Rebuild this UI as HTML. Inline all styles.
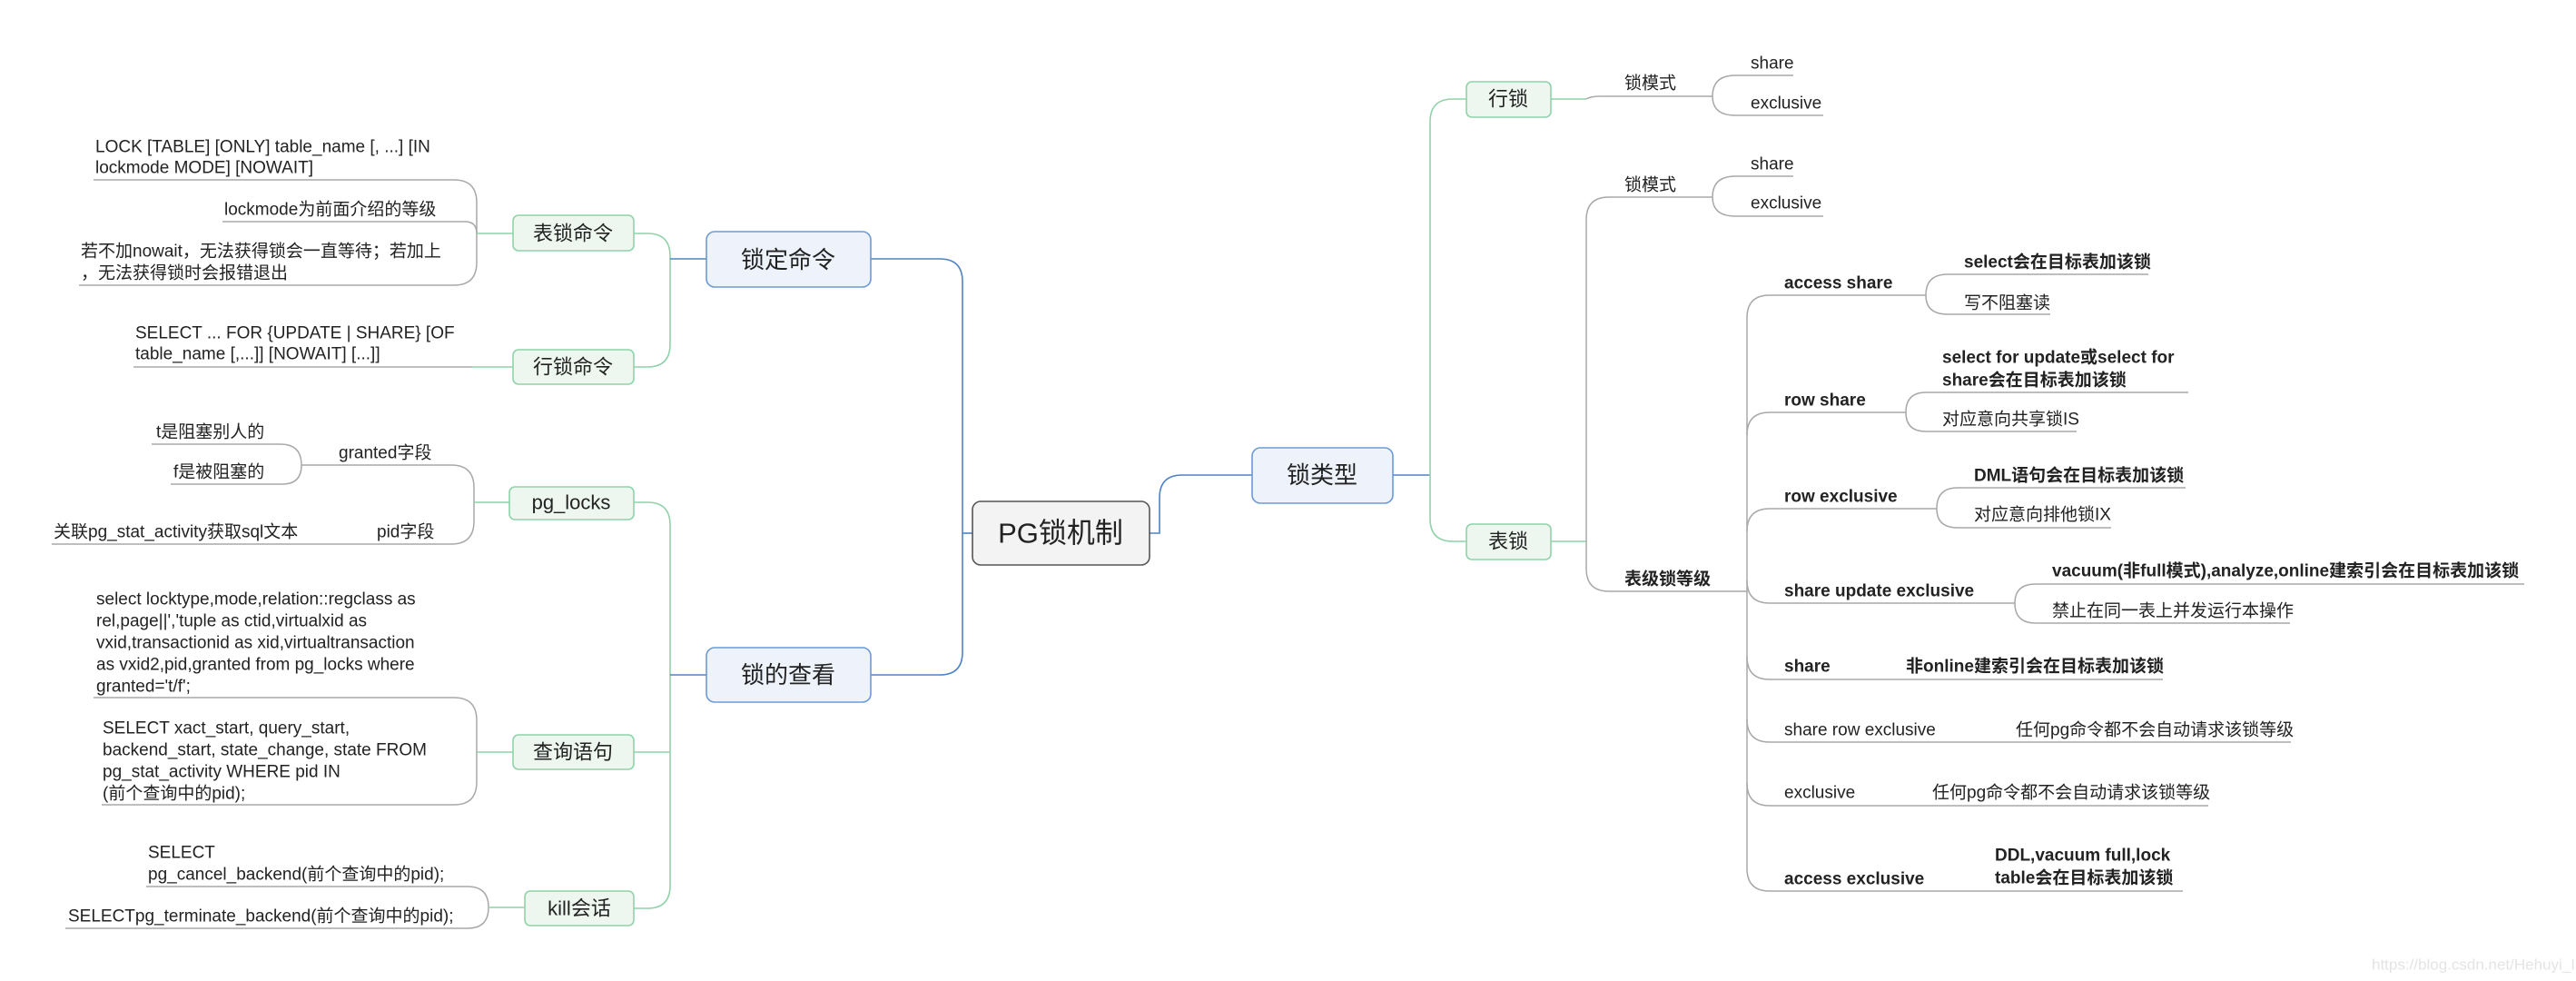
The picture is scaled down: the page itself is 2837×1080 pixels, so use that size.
<!DOCTYPE html>
<html><head><meta charset="utf-8"><style>
html,body{margin:0;padding:0;background:#fff;}
svg{display:block;}
text{font-family:"Liberation Sans","Noto Sans CJK SC",sans-serif;fill:#222;dominant-baseline:central;}
.s{font-size:19px;}
.b{font-size:19px;font-weight:bold;}
.g{fill:none;stroke:#a8a8a8;stroke-width:1.5;}
.gr{fill:none;stroke:#8fd3aa;stroke-width:1.6;}
.bl{fill:none;stroke:#4d82c4;stroke-width:1.6;}
</style></head><body>
<svg width="2837" height="1080" viewBox="0 0 2837 1080" xmlns="http://www.w3.org/2000/svg">
<!-- left gray brackets -->
<path class="g" d="M103 198 H500 Q525 198 525 223 V257"/>
<path class="g" d="M245 244 H512 Q525 244 525 257"/>
<path class="g" d="M87 314 H500 Q525 314 525 289 V257"/>
<path class="gr" d="M525 257 H565"/>
<path class="g" d="M147 404 H520"/>
<path class="gr" d="M520 404 H565"/>
<path class="g" d="M167 489 H309 Q332 489 332 512 Q332 533 311 533 H188"/>
<path class="g" d="M332 512 H497 Q522 512 522 537 V553"/>
<path class="g" d="M57 599 H497 Q522 599 522 574 V553"/>
<path class="gr" d="M522 553 H561"/>
<path class="g" d="M103 768 H500 Q525 768 525 793 V861 Q525 886 500 886 H112"/>
<path class="gr" d="M525 828 H565"/>
<path class="g" d="M161 976 H515 Q538 976 538 999 Q538 1022 515 1022 H72"/>
<path class="gr" d="M538 999 H578"/>
<!-- green brackets left -->
<path class="gr" d="M698 257 H713 Q738 257 738 282 V379 Q738 404 713 404 H698"/>
<path class="gr" d="M698 553 H713 Q738 553 738 578 V975 Q738 1000 713 1000 H698"/>
<path class="gr" d="M698 828 H738"/>
<path class="bl" d="M738 285 H778"/>
<path class="bl" d="M738 743 H778"/>
<!-- blue root links -->
<path class="bl" d="M959 285 H1035 Q1060 285 1060 310 V718 Q1060 743 1035 743 H959"/>
<path class="bl" d="M1060 587 H1071"/>
<path class="bl" d="M1266 587 H1277 V548 Q1277 523 1302 523 H1379"/>
<path class="bl" d="M1534 523 H1575"/>
<path class="gr" d="M1615 109 H1600 Q1575 109 1575 134 V571 Q1575 596 1600 596 H1615"/>
<path class="gr" d="M1708 109 H1747"/>
<path class="gr" d="M1708 596 H1747"/>
<!-- right gray -->
<path class="g" d="M1747 109 Q1752 106 1762 106 H1886"/>
<path class="g" d="M1886 106 Q1886 83 1911 83 H1975"/>
<path class="g" d="M1886 106 Q1886 127 1911 127 H2008"/>
<path class="g" d="M1886 217 H1772 Q1747 217 1747 242 V626 Q1747 651 1772 651 H1924"/>
<path class="g" d="M1886 217 Q1886 194 1911 194 H1975"/>
<path class="g" d="M1886 217 Q1886 238 1911 238 H2008"/>
<path class="g" d="M1924 350 V956"/>
<path class="g" d="M1924 350 Q1924 325 1949 325 H2121"/>
<path class="g" d="M1924 479 Q1924 454 1949 454 H2099"/>
<path class="g" d="M1924 585 Q1924 560 1949 560 H2133"/>
<path class="g" d="M1924 639 Q1924 664 1949 664 H2219"/>
<path class="g" d="M1924 723 Q1924 748 1949 748 H2382"/>
<path class="g" d="M1924 792 Q1924 817 1949 817 H2523"/>
<path class="g" d="M1924 862 Q1924 887 1949 887 H2432"/>
<path class="g" d="M1924 956 Q1924 981 1949 981 H2404"/>
<path class="g" d="M2121 325 Q2121 302 2145 302 H2366"/>
<path class="g" d="M2121 325 Q2121 346 2145 346 H2258"/>
<path class="g" d="M2099 454 Q2099 432 2121 432 H2410"/>
<path class="g" d="M2099 454 Q2099 475 2121 475 H2287"/>
<path class="g" d="M2133 560 Q2133 537 2156 537 H2407"/>
<path class="g" d="M2133 560 Q2133 581 2156 581 H2325"/>
<path class="g" d="M2219 664 Q2219 643 2242 643 H2780"/>
<path class="g" d="M2219 664 Q2219 686 2242 686 H2522"/>

<!-- boxes -->
<rect x="565" y="237" width="133" height="39" rx="6" fill="#edf7f0" stroke="#8fd3aa" stroke-width="1.6"/>
<text x="631" y="257" text-anchor="middle" style="font-size:22px">表锁命令</text>
<rect x="565" y="385" width="133" height="38" rx="6" fill="#edf7f0" stroke="#8fd3aa" stroke-width="1.6"/>
<text x="631" y="404" text-anchor="middle" style="font-size:22px">行锁命令</text>
<rect x="561" y="536" width="137" height="36" rx="6" fill="#edf7f0" stroke="#8fd3aa" stroke-width="1.6"/>
<text x="629" y="553" text-anchor="middle" style="font-size:22px">pg_locks</text>
<rect x="565" y="809" width="133" height="38" rx="6" fill="#edf7f0" stroke="#8fd3aa" stroke-width="1.6"/>
<text x="631" y="828" text-anchor="middle" style="font-size:22px">查询语句</text>
<rect x="578" y="981" width="120" height="38" rx="6" fill="#edf7f0" stroke="#8fd3aa" stroke-width="1.6"/>
<text x="638" y="1000" text-anchor="middle" style="font-size:22px">kill会话</text>
<rect x="778" y="255" width="181" height="61" rx="9" fill="#eef3fb" stroke="#6b9ad6" stroke-width="1.6"/>
<text x="868" y="286" text-anchor="middle" style="font-size:26px">锁定命令</text>
<rect x="778" y="713" width="181" height="60" rx="9" fill="#eef3fb" stroke="#6b9ad6" stroke-width="1.6"/>
<text x="868" y="743" text-anchor="middle" style="font-size:26px">锁的查看</text>
<rect x="1071" y="552" width="195" height="70" rx="9" fill="#f3f3f3" stroke="#555" stroke-width="1.6"/>
<text x="1168" y="587" text-anchor="middle" style="font-size:31px">PG锁机制</text>
<rect x="1379" y="493" width="155" height="61" rx="9" fill="#eef3fb" stroke="#6b9ad6" stroke-width="1.6"/>
<text x="1456" y="523" text-anchor="middle" style="font-size:26px">锁类型</text>
<rect x="1615" y="90" width="93" height="39" rx="6" fill="#edf7f0" stroke="#8fd3aa" stroke-width="1.6"/>
<text x="1661" y="109" text-anchor="middle" style="font-size:22px">行锁</text>
<rect x="1615" y="577" width="93" height="39" rx="6" fill="#edf7f0" stroke="#8fd3aa" stroke-width="1.6"/>
<text x="1661" y="596" text-anchor="middle" style="font-size:22px">表锁</text>

<!-- left texts -->
<text class="s" x="105" y="162">LOCK [TABLE] [ONLY] table_name [, ...] [IN</text>
<text class="s" x="105" y="185">lockmode MODE] [NOWAIT]</text>
<text class="s" x="247" y="231">lockmode为前面介绍的等级</text>
<text class="s" x="89" y="277">若不加nowait，无法获得锁会一直等待；若加上</text>
<text class="s" x="89" y="301">，无法获得锁时会报错退出</text>
<text class="s" x="149" y="367">SELECT ... FOR {UPDATE | SHARE} [OF</text>
<text class="s" x="149" y="390">table_name [,...]] [NOWAIT] [...]]</text>
<text class="s" x="172" y="476">t是阻塞别人的</text>
<text class="s" x="191" y="520">f是被阻塞的</text>
<text class="s" x="373" y="499">granted字段</text>
<text class="s" x="59" y="586">关联pg_stat_activity获取sql文本</text>
<text class="s" x="415" y="586">pid字段</text>
<text class="s" x="106" y="660">select locktype,mode,relation::regclass as</text>
<text class="s" x="106" y="684">rel,page||','tuple as ctid,virtualxid as</text>
<text class="s" x="106" y="708">vxid,transactionid as xid,virtualtransaction</text>
<text class="s" x="106" y="732">as vxid2,pid,granted from pg_locks where</text>
<text class="s" x="106" y="756">granted='t/f';</text>
<text class="s" x="113" y="802">SELECT xact_start, query_start,</text>
<text class="s" x="113" y="826">backend_start, state_change, state FROM</text>
<text class="s" x="113" y="850">pg_stat_activity WHERE pid IN</text>
<text class="s" x="113" y="874">(前个查询中的pid);</text>
<text class="s" x="163" y="939">SELECT</text>
<text class="s" x="163" y="963">pg_cancel_backend(前个查询中的pid);</text>
<text class="s" x="75" y="1009">SELECTpg_terminate_backend(前个查询中的pid);</text>

<!-- right texts -->
<text class="s" x="1789" y="92">锁模式</text>
<text class="s" x="1928" y="70">share</text>
<text class="s" x="1928" y="114">exclusive</text>
<text class="s" x="1789" y="204">锁模式</text>
<text class="s" x="1928" y="181">share</text>
<text class="s" x="1928" y="224">exclusive</text>
<text class="b" x="1789" y="638">表级锁等级</text>
<text class="b" x="1965" y="312">access share</text>
<text class="b" x="2163" y="289">select会在目标表加该锁</text>
<text class="s" x="2163" y="334">写不阻塞读</text>
<text class="b" x="1965" y="441">row share</text>
<text class="b" x="2139" y="394">select for update或select for</text>
<text class="b" x="2139" y="419">share会在目标表加该锁</text>
<text class="s" x="2139" y="462">对应意向共享锁IS</text>
<text class="b" x="1965" y="547">row exclusive</text>
<text class="b" x="2174" y="524">DML语句会在目标表加该锁</text>
<text class="s" x="2174" y="567">对应意向排他锁IX</text>
<text class="b" x="1965" y="651">share update exclusive</text>
<text class="b" x="2260" y="629">vacuum(非full模式),analyze,online建索引会在目标表加该锁</text>
<text class="s" x="2260" y="673">禁止在同一表上并发运行本操作</text>
<text class="b" x="1965" y="734">share</text>
<text class="b" x="2099" y="734">非online建索引会在目标表加该锁</text>
<text class="s" x="1965" y="804">share row exclusive</text>
<text class="s" x="2220" y="804">任何pg命令都不会自动请求该锁等级</text>
<text class="s" x="1965" y="873">exclusive</text>
<text class="s" x="2128" y="873">任何pg命令都不会自动请求该锁等级</text>
<text class="b" x="1965" y="968">access exclusive</text>
<text class="b" x="2197" y="942">DDL,vacuum full,lock</text>
<text class="b" x="2197" y="967">table会在目标表加该锁</text>

<text x="2612" y="1062" style="font-size:17px;fill:#e4e4e4">https://blog.csdn.net/Hehuyi_In</text>
</svg>
</body></html>
